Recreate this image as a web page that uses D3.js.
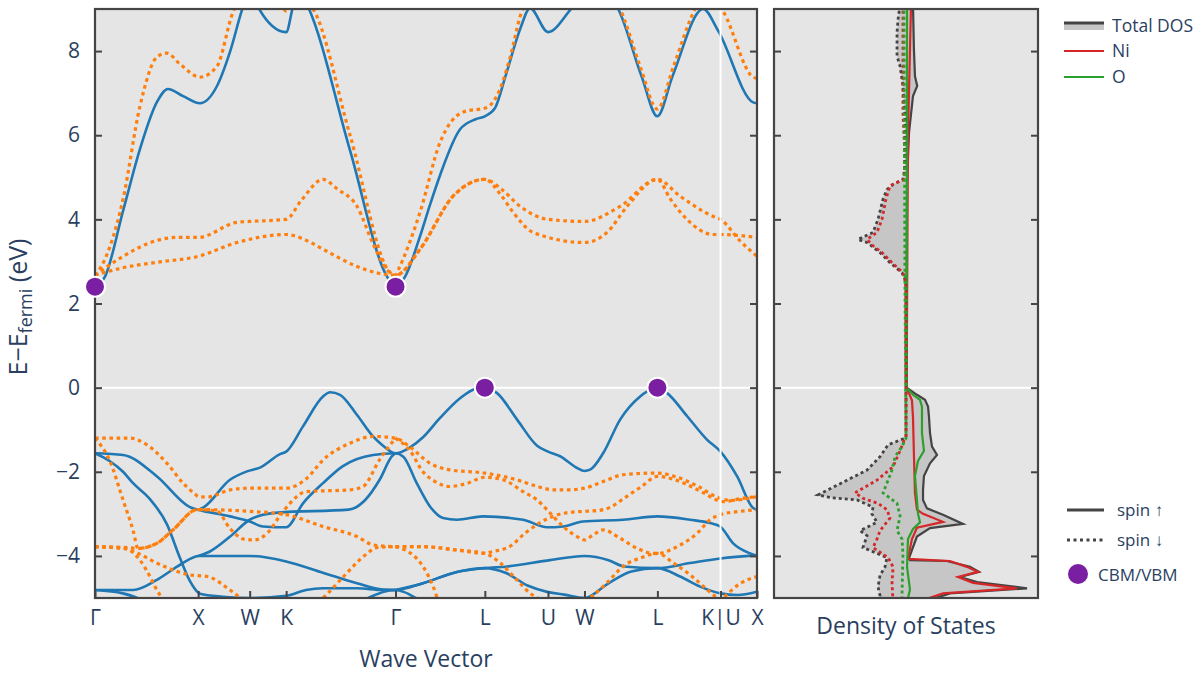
<!DOCTYPE html>
<html>
<head>
<meta charset="utf-8">
<script src="https://cdn.jsdelivr.net/npm/d3@7"></script>
<style>
  body { margin: 0; background: #fff; }
  svg { font-family: "Open Sans", "Noto Sans", sans-serif; }
</style>
</head>
<body>
<svg width="1200" height="673"></svg>
<script>
// High-symmetry path (k distance, 2π/a units) and labels
const kTicks = [0, 1, 1.5, 1.8536, 2.9142, 3.7802, 4.3926, 4.7462, 5.4533, 6.0657, 6.4193];
const kLabels = ["Γ", "X", "W", "K", "Γ", "L", "U", "W", "L", "K|U", "X"];
const energyTicks = [-4, -2, 0, 2, 4, 6, 8];

// Spin-up bands, [k, E - Efermi]
const up1 = [[0,-1.56],[0.272,-1.6],[0.601,-2.11],[0.921,-2.84],[1.0,-2.9],[1.048,-2.85],[1.309,-2.19],[1.474,-1.99],[1.6,-1.9],[1.794,-1.58],[1.854,-1.52],[2.017,-0.92],[2.211,-0.21],[2.28,-0.11],[2.376,-0.17],[2.541,-0.65],[2.696,-1.16],[2.793,-1.38],[2.914,-1.56],[3.055,-1.42],[3.181,-1.18],[3.346,-0.72],[3.54,-0.25],[3.686,-0.03],[3.78,0],[3.899,-0.13],[4.093,-0.76],[4.287,-1.38],[4.393,-1.52],[4.51,-1.63],[4.675,-1.91],[4.746,-1.98],[4.801,-1.95],[4.927,-1.56],[5.092,-0.76],[5.286,-0.21],[5.412,-0.02],[5.453,0],[5.548,-0.13],[5.742,-0.68],[5.936,-1.24],[6.066,-1.52],[6.227,-2.11],[6.382,-2.86],[6.419,-2.9]];
const up2 = [[0,-1.56],[0.145,-1.75],[0.272,-2.0],[0.369,-2.27],[0.533,-2.65],[0.698,-3.25],[0.824,-4.05],[0.921,-4.6],[1.0,-4.87],[1.018,-4.9],[1.241,-4.97],[1.5,-5.0],[1.854,-4.95],[2.046,-4.81],[2.211,-4.77],[2.541,-4.77],[2.793,-4.81],[2.914,-4.81]];
const up3 = [[1.0,-2.9],[1.048,-2.93],[1.309,-3.06],[1.5,-3.18],[1.629,-3.3],[1.854,-3.32],[2.017,-2.75],[2.211,-2.27],[2.4,-1.87],[2.696,-1.6],[2.914,-1.56],[2.99,-1.64],[3.12,-2.27],[3.25,-2.83],[3.375,-3.1],[3.51,-3.14],[3.763,-3.06],[4.151,-3.14],[4.384,-3.32],[4.539,-3.3],[4.733,-3.18],[5.121,-3.14],[5.451,-3.06],[5.771,-3.14],[5.965,-3.22],[6.062,-3.3],[6.188,-3.7],[6.353,-3.94],[6.419,-4.0]];
const up4 = [[0,-4.81],[0.37,-4.81],[0.6,-4.57],[0.8,-4.25],[0.97,-4.02],[1.0,-4.0],[1.11,-3.9],[1.31,-3.54],[1.5,-3.14],[1.63,-3.02],[1.77,-2.97],[2.46,-2.9],[2.62,-2.67],[2.76,-2.19],[2.88,-1.63],[2.914,-1.56]];
const up5 = [[1.0,-4.0],[1.5,-4.0],[1.854,-4.13],[2.21,-4.4],[2.54,-4.65],[2.79,-4.8],[2.914,-4.81],[3.18,-4.65],[3.51,-4.38],[3.78,-4.29],[4.0,-4.25],[4.413,-4.1],[4.746,-4.0],[4.98,-4.1],[5.13,-4.25],[5.453,-4.29],[5.77,-4.17],[6.066,-4.06],[6.419,-3.98]];
const up6 = [[2.914,-4.81],[3.18,-4.65],[3.51,-4.38],[3.78,-4.29],[3.98,-4.4],[4.2,-4.71],[4.393,-4.86],[4.55,-4.92],[4.746,-5.0],[4.98,-4.65],[5.2,-4.37],[5.453,-4.29],[5.674,-4.49],[5.868,-4.73],[6.066,-4.89],[6.23,-4.93],[6.419,-4.85]];
const up7 = [[0,-4.81],[0.27,-4.89],[0.41,-5.0],[0.55,-5.2]];
const up8 = [[2.5,-5.2],[2.65,-5.0],[2.82,-4.84],[2.914,-4.81],[3.0,-4.86],[3.11,-5.0],[3.25,-5.2]];
const upC1 = [[0,2.4],[0.097,2.64],[0.272,4.2],[0.436,5.67],[0.601,6.79],[0.707,7.1],[0.854,6.93],[1.018,6.76],[1.183,7.17],[1.309,7.98],[1.435,9.05],[1.51,9.5],[1.58,9.05],[1.854,8.45],[1.92,9.05],[1.99,9.4],[2.066,9.05],[2.473,5.64],[2.832,2.64],[2.914,2.4],[3.007,2.64],[3.152,3.6],[3.249,4.35],[3.346,5.05],[3.54,6.14],[3.69,6.38],[3.78,6.45],[3.88,6.65],[3.98,7.4],[4.122,8.52],[4.219,9.02],[4.393,8.45],[4.636,9.05],[4.85,9.5],[5.063,9.05],[5.3,7.4],[5.453,6.45],[5.6,7.4],[5.897,9.0],[6.043,8.48],[6.382,6.78],[6.419,6.76]];

// Spin-down bands, [k, E - Efermi]
const dnC1 = [[0,2.67],[0.03,2.76],[0.272,4.48],[0.436,6.69],[0.601,7.86],[0.698,7.95],[0.82,7.7],[1.018,7.38],[1.183,7.64],[1.338,8.93],[1.5,9.5],[1.76,9.3],[1.854,8.95],[1.95,9.3],[2.114,9.0],[2.473,6.0],[2.861,2.74],[2.914,2.67],[2.95,2.85],[3.152,4.17],[3.346,5.83],[3.569,6.55],[3.8,6.66],[3.928,7.1],[4.02,7.8],[4.151,9.0],[4.3,9.3],[4.4,9.02],[4.5,9.3],[4.8,9.8],[5.092,9.0],[5.286,7.64],[5.453,6.62],[5.61,7.64],[5.82,9.0],[5.95,9.4],[6.09,8.95],[6.382,7.38],[6.419,7.35]];
const dnC2 = [[0,2.67],[0.272,3.12],[0.601,3.5],[0.795,3.57],[1.0,3.57],[1.377,3.93],[1.5,3.95],[1.854,4.0],[2.0,4.45],[2.211,4.95],[2.35,4.72],[2.541,4.31],[2.7,3.4],[2.832,2.8],[2.914,2.67],[3.152,3.29],[3.472,4.55],[3.78,4.95],[3.95,4.7],[4.122,4.31],[4.393,4.0],[4.746,3.95],[5.092,4.31],[5.453,4.95],[5.674,4.55],[5.994,4.07],[6.066,4.0],[6.25,3.5],[6.419,3.12]];
const dnC3 = [[0,2.67],[0.272,2.85],[0.601,2.98],[1.0,3.12],[1.377,3.45],[1.854,3.64],[2.05,3.5],[2.211,3.29],[2.541,2.88],[2.75,2.72],[2.914,2.67],[3.152,3.29],[3.472,4.55],[3.78,4.95],[3.93,4.6],[4.054,4.17],[4.248,3.69],[4.746,3.45],[4.966,3.69],[5.16,4.31],[5.453,4.95],[5.58,4.48],[5.74,4.0],[5.994,3.64],[6.066,3.64],[6.419,3.57]];
const dn1 = [[0,-1.2],[0.34,-1.2],[0.504,-1.36],[0.698,-1.8],[0.854,-2.27],[0.98,-2.55],[1.0,-2.59],[1.09,-2.6],[1.31,-2.43],[1.5,-2.39],[1.854,-2.39],[2.056,-2.15],[2.211,-1.72],[2.473,-1.32],[2.696,-1.16],[2.914,-1.2],[3.05,-1.4],[3.25,-1.8],[3.43,-1.95],[3.78,-2.03],[4.09,-2.19],[4.29,-2.35],[4.45,-2.43],[4.58,-2.43],[4.746,-2.39],[4.93,-2.23],[5.12,-2.07],[5.453,-2.03],[5.62,-2.11],[5.85,-2.35],[6.03,-2.6],[6.17,-2.68],[6.419,-2.59]];
const dn2 = [[0,-1.2],[0.145,-1.75],[0.272,-2.67],[0.37,-3.4],[0.417,-3.82],[0.6,-3.7],[0.757,-3.38],[0.99,-2.9],[1.05,-2.9],[1.5,-2.94],[1.854,-3.02],[2.21,-3.3],[2.54,-3.54],[2.7,-3.74],[2.914,-3.78]];
const dn3 = [[2.914,-1.2],[3.055,-1.5],[3.18,-2.0],[3.29,-2.22],[3.44,-2.35],[3.6,-2.28],[3.78,-2.13],[3.957,-2.19],[4.151,-2.47],[4.287,-2.67],[4.413,-2.98],[4.539,-3.3],[4.675,-3.54],[4.746,-3.62],[4.83,-3.5],[4.927,-3.38],[5.092,-3.58],[5.257,-3.82],[5.412,-3.94],[5.453,-3.94],[5.645,-3.78],[5.839,-3.46],[5.965,-3.14],[6.062,-3.02],[6.256,-2.94],[6.419,-2.9]];
const dn4 = [[0,-3.78],[0.3,-3.8],[0.417,-3.82],[0.6,-3.7],[0.757,-3.38],[0.99,-2.9],[1.18,-2.93],[1.31,-3.35],[1.44,-3.6],[1.54,-3.62],[1.67,-3.46],[1.79,-3.06],[1.89,-2.75],[2.05,-2.47],[2.47,-2.43],[2.6,-2.35],[2.76,-1.71],[2.914,-1.2]];
const dn5 = [[0,-3.78],[0.27,-3.82],[0.417,-3.94],[0.6,-4.17],[0.92,-4.45],[1.09,-4.49],[1.31,-4.81],[1.41,-5.0],[1.5,-5.2]];
const dn6 = [[0,-3.78],[0.3,-3.83],[0.436,-4.1],[0.533,-4.49],[0.6,-4.81],[0.65,-5.0],[0.72,-5.2]];
const dn7 = [[2.1,-5.2],[2.21,-5.0],[2.41,-4.49],[2.6,-4.02],[2.74,-3.8],[2.914,-3.78]];
const dn8 = [[2.914,-3.78],[3.18,-3.78],[3.51,-3.86],[3.78,-3.94],[3.85,-3.9],[4.02,-3.78],[4.17,-3.46],[4.31,-3.22],[4.44,-3.06],[4.56,-2.98],[4.746,-2.94],[4.88,-2.92],[5.0,-2.84],[5.13,-2.63],[5.3,-2.35],[5.453,-2.11],[5.71,-2.27],[5.9,-2.5],[6.09,-2.71],[6.28,-2.63],[6.419,-2.59]];
const dn9 = [[2.914,-3.78],[3.18,-3.78],[3.51,-3.86],[3.78,-3.94],[3.93,-4.17],[4.09,-4.57],[4.22,-4.89],[4.29,-5.0],[4.36,-5.2]];
const dn10 = [[4.7,-5.2],[4.8,-5.0],[4.96,-4.65],[5.12,-4.25],[5.31,-4.03],[5.453,-3.94],[5.61,-4.17],[5.77,-4.45],[5.94,-4.81],[6.03,-5.0],[6.1,-5.2]];
const dn11 = [[6.0,-5.2],[6.09,-5.0],[6.26,-4.65],[6.419,-4.49]];
const dn12 = [[2.914,-3.78],[3.0,-3.85],[3.18,-4.25],[3.28,-4.73],[3.32,-5.0],[3.38,-5.2]];

const spinUpBands = [up1, up2, up3, up4, up5, up6, up7, up8, upC1];
const spinDownBands = [dnC1, dnC2, dnC3, dn1, dn2, dn3, dn4, dn5, dn6, dn7, dn8, dn9, dn10, dn11, dn12];

// Band extrema (CBM / VBM), [k, E]
const extrema = [[0, 2.4], [2.9142, 2.4], [3.7802, 0], [5.4533, 0]];

// Density of states, [E, DOS]  (spin down negative)
const dosTotalUp = [[9.1,0.53],[8.05,0.6],[7.4,0.68],[7.17,0.85],[6.93,0.53],[6.07,0.23],[4.9,0.08],[2.5,0.05],[0,0.05],[-0.17,0.83],[-0.29,1.44],[-0.45,1.67],[-0.69,1.74],[-1.08,1.82],[-1.4,1.97],[-1.6,2.35],[-1.8,1.82],[-2.1,1.36],[-2.43,1.29],[-2.67,1.29],[-2.87,1.59],[-3.02,2.8],[-3.24,4.32],[-3.34,1.82],[-3.54,0.83],[-3.86,0.45],[-4.05,0.23],[-4.1,0.3],[-4.12,3.1],[-4.26,4.85],[-4.38,5.53],[-4.5,4.09],[-4.62,5.38],[-4.77,9.17],[-4.89,3.33],[-5.1,1.29]];
const dosNiUp = [[9.1,0.38],[6.0,0.15],[0,0.05],[-0.3,0.45],[-0.7,0.53],[-1.6,0.6],[-2.5,0.68],[-2.9,0.83],[-3.0,1.29],[-3.19,2.8],[-3.33,0.83],[-3.6,0.45],[-4.07,0.15],[-4.12,3.33],[-4.26,4.62],[-4.38,5.45],[-4.5,3.94],[-4.64,5.08],[-4.77,8.41],[-4.89,2.8],[-5.1,0.83]];
const dosOUp = [[9.1,0.08],[0,0.05],[-0.17,0.53],[-0.29,1.06],[-0.45,1.21],[-1.08,1.21],[-1.5,1.36],[-1.74,0.91],[-2.1,0.68],[-2.67,0.83],[-3.0,0.91],[-3.2,1.06],[-3.36,0.53],[-3.6,0.15],[-4.26,0.08],[-4.8,0.3],[-5.1,0.08]];
const dosTotalDown = [[9.1,-0.45],[8.76,-0.6],[8.44,-0.68],[7.88,-0.68],[7.64,-0.45],[7.17,-0.23],[6.46,-0.08],[5.2,-0.1],[4.95,-0.23],[4.83,-0.98],[4.71,-1.44],[4.48,-1.74],[4.0,-2.12],[3.69,-2.5],[3.52,-3.64],[3.45,-2.95],[3.21,-1.97],[2.97,-1.21],[2.73,-0.3],[2.57,-0.08],[2.4,0],[-1.15,0],[-1.2,-0.08],[-1.36,-1.36],[-1.64,-1.97],[-1.96,-2.95],[-2.2,-4.47],[-2.55,-6.67],[-2.62,-5.6],[-2.67,-3.71],[-2.84,-2.5],[-3.0,-2.58],[-3.2,-2.2],[-3.4,-3.48],[-3.52,-2.95],[-3.8,-3.26],[-4.04,-1.44],[-4.26,-1.59],[-4.46,-1.97],[-4.74,-2.12],[-4.94,-1.97],[-5.1,-1.97]];
const dosNiDown = [[9.1,-0.23],[6.5,-0.23],[5.5,-0.08],[4.95,-0.15],[4.8,-1.21],[4.48,-1.52],[4.0,-1.82],[3.69,-2.2],[3.52,-2.95],[3.37,-2.5],[3.21,-1.82],[2.97,-1.06],[2.73,-0.23],[2.6,-0.08],[2.4,0],[-1.15,0],[-1.2,-0.08],[-1.5,-0.45],[-1.88,-0.98],[-2.2,-2.2],[-2.5,-3.86],[-2.63,-3.26],[-2.75,-2.12],[-2.9,-1.44],[-3.1,-1.21],[-3.4,-1.97],[-3.6,-2.2],[-3.8,-2.5],[-4.04,-1.36],[-4.26,-0.98],[-4.64,-1.06],[-5.1,-0.98]];
const dosODown = [[9.1,-0.15],[2.5,-0.08],[-1.2,0],[-1.4,-0.3],[-1.64,-0.83],[-1.96,-1.06],[-2.2,-1.36],[-2.5,-1.74],[-2.75,-0.68],[-3.05,-0.45],[-3.4,-0.68],[-3.6,-0.3],[-3.95,-0.23],[-4.9,-0.3],[-5.1,-0.3]];

// Layout
const svg = d3.select("svg");
const main = { left: 95, right: 757, top: 9, bottom: 598 };
const dosBox = { left: 774, right: 1038, top: 9, bottom: 598 };
const textColor = "#2a3f5f";
const frameColor = "#444";
const blue = "#1f77b4", orange = "#ff7f0e", purple = "#7b1fa2";

const x = d3.scaleLinear().domain([0, kTicks[kTicks.length - 1]]).range([main.left, main.right]);
const y = d3.scaleLinear().domain([-5, 9]).range([main.bottom, main.top]);
const xd = d3.scaleLinear().domain([-10, 10]).range([dosBox.left, dosBox.right]);

const defs = svg.append("defs");
defs.append("clipPath").attr("id", "clipMain").append("rect")
  .attr("x", main.left).attr("y", main.top)
  .attr("width", main.right - main.left).attr("height", main.bottom - main.top);
defs.append("clipPath").attr("id", "clipDos").append("rect")
  .attr("x", dosBox.left).attr("y", dosBox.top)
  .attr("width", dosBox.right - dosBox.left).attr("height", dosBox.bottom - dosBox.top);

// backgrounds
[main, dosBox].forEach(b => {
  svg.append("rect").attr("x", b.left).attr("y", b.top)
    .attr("width", b.right - b.left).attr("height", b.bottom - b.top)
    .attr("fill", "#e5e5e5");
});

// zero lines
svg.append("line").attr("x1", main.left).attr("x2", main.right)
  .attr("y1", y(0)).attr("y2", y(0)).attr("stroke", "#fff").attr("stroke-width", 2);
svg.append("line").attr("x1", dosBox.left).attr("x2", dosBox.right)
  .attr("y1", y(0)).attr("y2", y(0)).attr("stroke", "#fff").attr("stroke-width", 2);

// bands
const bandLine = d3.line().x(d => x(d[0])).y(d => y(d[1])).curve(d3.curveMonotoneX);
const bands = svg.append("g").attr("clip-path", "url(#clipMain)");
bands.selectAll("path.up").data(spinUpBands).enter().append("path")
  .attr("class", "up").attr("d", bandLine)
  .attr("fill", "none").attr("stroke", blue).attr("stroke-width", 2.6);
bands.selectAll("path.down").data(spinDownBands).enter().append("path")
  .attr("class", "down").attr("d", bandLine)
  .attr("fill", "none").attr("stroke", orange).attr("stroke-width", 3.2)
  .attr("stroke-dasharray", "3.6,3.6");

// K|U path break
svg.append("line").attr("x1", x(kTicks[9])).attr("x2", x(kTicks[9]))
  .attr("y1", main.top).attr("y2", main.bottom)
  .attr("stroke", "#fff").attr("stroke-width", 2);

// DOS
const dosGroup = svg.append("g").attr("clip-path", "url(#clipDos)");
const dosArea = d3.area().y(d => y(d[0])).x0(xd(0)).x1(d => xd(d[1]));
const dosLine = d3.line().x(d => xd(d[1])).y(d => y(d[0]));
[dosTotalUp, dosTotalDown].forEach(s => {
  dosGroup.append("path").datum(s).attr("d", dosArea).attr("fill", "#c6c6c6");
});
const dosSeries = [
  { data: dosTotalUp, color: "#444", dash: null },
  { data: dosNiUp, color: "#d62728", dash: null },
  { data: dosOUp, color: "#2ca02c", dash: null },
  { data: dosTotalDown, color: "#444", dash: "3,3" },
  { data: dosNiDown, color: "#d62728", dash: "3,3" },
  { data: dosODown, color: "#2ca02c", dash: "3,3" },
];
dosSeries.forEach(s => {
  dosGroup.append("path").datum(s.data).attr("d", dosLine)
    .attr("fill", "none").attr("stroke", s.color)
    .attr("stroke-width", s.dash ? 2.8 : 2.2)
    .attr("stroke-dasharray", s.dash);
});

// axes
const fmt = d => (d < 0 ? "\u2212" + Math.abs(d) : String(d));
function styleAxis(g) {
  g.select(".domain").remove();
  g.selectAll(".tick line").attr("stroke", frameColor).attr("stroke-width", 2);
  g.selectAll(".tick text").attr("fill", textColor).attr("font-size", 21)
    .attr("font-family", '"Open Sans", sans-serif');
}
svg.append("g").attr("transform", `translate(${main.left},0)`)
  .call(d3.axisLeft(y).tickValues(energyTicks).tickSize(-7).tickPadding(15).tickFormat(fmt))
  .call(styleAxis);
svg.append("g").attr("transform", `translate(${main.right},0)`)
  .call(d3.axisRight(y).tickValues(energyTicks).tickSize(-7).tickFormat(""))
  .call(styleAxis);
svg.append("g").attr("transform", `translate(0,${main.bottom})`)
  .call(d3.axisBottom(x).tickValues(kTicks).tickSize(-7).tickPadding(12)
    .tickFormat((d, i) => kLabels[i]))
  .call(styleAxis);
svg.append("g").attr("transform", `translate(${dosBox.left},0)`)
  .call(d3.axisLeft(y).tickValues(energyTicks).tickSize(-7).tickFormat(""))
  .call(styleAxis);
svg.append("g").attr("transform", `translate(${dosBox.right},0)`)
  .call(d3.axisRight(y).tickValues(energyTicks).tickSize(-7).tickFormat(""))
  .call(styleAxis);

// frames
[main, dosBox].forEach(b => {
  svg.append("rect").attr("x", b.left).attr("y", b.top)
    .attr("width", b.right - b.left).attr("height", b.bottom - b.top)
    .attr("fill", "none").attr("stroke", frameColor).attr("stroke-width", 2.2);
});

// CBM / VBM markers
svg.selectAll("circle.ext").data(extrema).enter().append("circle")
  .attr("class", "ext")
  .attr("cx", d => x(d[0])).attr("cy", d => y(d[1])).attr("r", 10)
  .attr("fill", purple).attr("stroke", "#fff").attr("stroke-width", 2);

// axis titles
svg.append("text").attr("x", (main.left + main.right) / 2).attr("y", 667)
  .attr("text-anchor", "middle").attr("fill", textColor).attr("font-size", 23)
  .text("Wave Vector");
svg.append("text").attr("x", (dosBox.left + dosBox.right) / 2).attr("y", 634)
  .attr("text-anchor", "middle").attr("fill", textColor).attr("font-size", 23)
  .text("Density of States");
const yTitle = svg.append("text")
  .attr("transform", `translate(27,307) rotate(-90)`)
  .attr("text-anchor", "middle").attr("fill", textColor).attr("font-size", 25);
yTitle.append("tspan").text("E\u2212E");
yTitle.append("tspan").attr("font-size", 18).attr("dy", 5).text("fermi");
yTitle.append("tspan").attr("dy", -5).text(" (eV)");

// legends
const legend = svg.append("g");
const lx0 = 1064, lx1 = 1104, ltx = 1112;
legend.append("rect").attr("x", lx0).attr("y", 23).attr("width", lx1 - lx0).attr("height", 7)
  .attr("fill", "#c6c6c6");
legend.append("line").attr("x1", lx0).attr("x2", lx1).attr("y1", 23).attr("y2", 23)
  .attr("stroke", "#444").attr("stroke-width", 3);
legend.append("line").attr("x1", lx0).attr("x2", lx1).attr("y1", 51).attr("y2", 51)
  .attr("stroke", "#d62728").attr("stroke-width", 2.2);
legend.append("line").attr("x1", lx0).attr("x2", lx1).attr("y1", 77).attr("y2", 77)
  .attr("stroke", "#2ca02c").attr("stroke-width", 2.2);
[["Total DOS", 26], ["Ni", 51], ["O", 77]].forEach(([t, yy]) => {
  legend.append("text").attr("x", ltx).attr("y", yy).attr("dy", "0.35em")
    .attr("fill", textColor).attr("font-size", 17.5).text(t);
});
legend.append("line").attr("x1", 1067).attr("x2", 1104).attr("y1", 510).attr("y2", 510)
  .attr("stroke", "#444").attr("stroke-width", 3);
legend.append("line").attr("x1", 1067).attr("x2", 1104).attr("y1", 540).attr("y2", 540)
  .attr("stroke", "#444").attr("stroke-width", 3).attr("stroke-dasharray", "3,3.5");
legend.append("circle").attr("cx", 1078).attr("cy", 574).attr("r", 10).attr("fill", purple);
[["spin \u2191", 1117, 510], ["spin \u2193", 1117, 540], ["CBM/VBM", 1098, 575]].forEach(([t, xx, yy]) => {
  legend.append("text").attr("x", xx).attr("y", yy).attr("dy", "0.35em")
    .attr("fill", textColor).attr("font-size", 17).text(t);
});
</script>
</body>
</html>
